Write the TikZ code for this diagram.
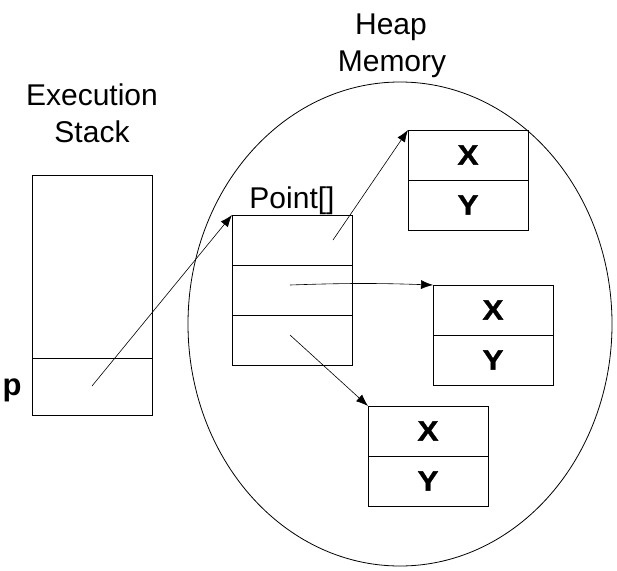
\documentclass[tikz,border=0pt]{standalone}
\usepackage{fontspec}
\setmainfont{Liberation Sans}
\newfontfamily\widebold[FakeStretch=1.12,FakeBold=1.2]{Liberation Sans Bold}
\usetikzlibrary{arrows.meta,shapes.geometric}
\begin{document}
\begin{tikzpicture}[x=1pt,y=-1pt,
  cell/.style={draw, line width=0.9pt, minimum width=120pt, inner sep=0pt, outer sep=0pt, anchor=north west},
  xycell/.style={cell, minimum height=50pt, font=\widebold\fontsize{28}{30}\selectfont},
  lbl/.style={anchor=base, inner sep=0pt, font=\fontsize{30}{36}\selectfont},
  ptr/.style={line width=0.6pt, -{Latex[length=12pt,width=9pt]}}]
\useasboundingbox (0,0) rectangle (617,570);
% heap ellipse
\node[ellipse, draw, line width=0.8pt, minimum width=424pt, minimum height=484pt, inner sep=0pt] (heap) at (400,324) {};
% labels
\node[lbl] (exe) at (92,105) {Execution};
\node[lbl] (stk) at (92,142) {Stack};
\node[lbl] (hp) at (391,34) {Heap};
\node[lbl] (mem) at (392,71) {Memory};
\node[lbl] (pt) at (292,208) {Point[]};
\node[anchor=base, inner sep=0pt, font=\fontsize{31}{34}\selectfont\bfseries] (p) at (12,395) {p};
% stack
\node[cell, minimum height=183pt] (stop) at (32,175) {};
\node[cell, minimum height=57pt] (pcell) at (32,358) {};
% Point[] array
\node[cell, minimum height=50pt] (a1) at (232,215) {};
\node[cell, minimum height=50pt] (a2) at (232,265) {};
\node[cell, minimum height=50pt] (a3) at (232,315) {};
% point objects
\node[xycell] (x1) at (408,130) {X};
\node[xycell] (y1) at (408,180) {Y};
\node[xycell] (x2) at (433,285) {X};
\node[xycell] (y2) at (433,335) {Y};
\node[xycell] (x3) at (368,406) {X};
\node[xycell] (y3) at (368,456) {Y};
% pointer starts
\coordinate (s0) at (92,386);
\coordinate (s1) at (333,240);
\coordinate (s2) at (290,285);
\coordinate (s3) at (290,335);
% pointers
\draw[ptr] (s0) -- (a1.north west);
\draw[ptr] (s1) -- (x1.north west);
\draw[ptr] (s2) to[bend left=2] (x2.north west);
\draw[ptr] (s3) -- (x3.north west);
\end{tikzpicture}
\end{document}
